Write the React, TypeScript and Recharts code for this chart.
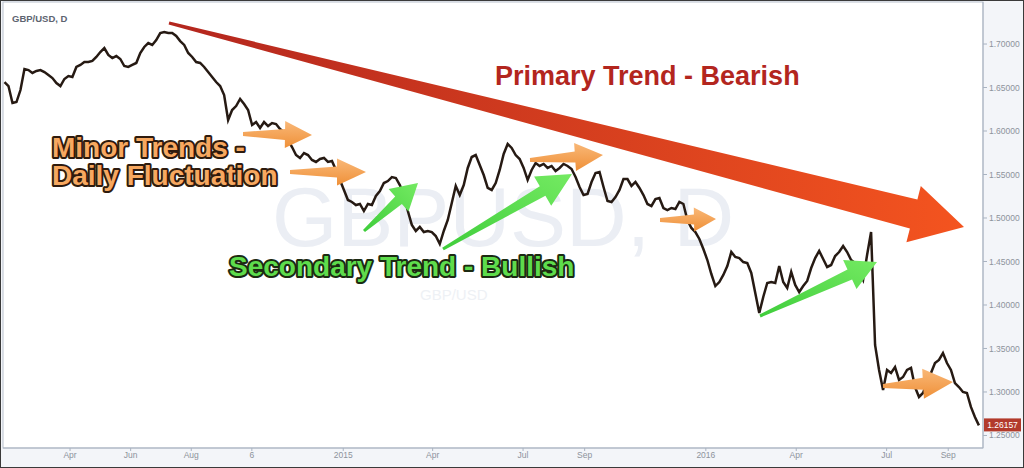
import React from "react";
import { ComposedChart, Line, XAxis, YAxis, ReferenceDot } from "recharts";

const DAY = 86400000;
const FIRST_BAR = Date.UTC(2014, 0, 25);
const STEP = 4.02 * DAY;
const X_START = Date.UTC(2014, 0, 23, 12);
const X_END = Date.UTC(2016, 9, 6);

// GBP/USD closes, one every ~4 days
const closes = [
  1.6563, 1.6517, 1.6322, 1.6333, 1.6471, 1.6713, 1.6701, 1.6667, 1.669, 1.6701,
  1.6678, 1.6644, 1.6609, 1.6552, 1.6517, 1.6598, 1.6632, 1.6621, 1.6736, 1.6759,
  1.6793, 1.6793, 1.6805, 1.6851, 1.6908, 1.6954, 1.6874, 1.6839, 1.6862, 1.6828,
  1.6747, 1.6736, 1.6759, 1.6782, 1.6897, 1.6966, 1.7011, 1.6989, 1.7046, 1.7126,
  1.7138, 1.7126, 1.7126, 1.7092, 1.7034, 1.6989, 1.6897, 1.6851, 1.6793, 1.6782,
  1.6736, 1.6678, 1.6621, 1.6563, 1.6517, 1.6414, 1.6126, 1.6241, 1.6287, 1.6368,
  1.631,
  1.6241, 1.6069, 1.6103, 1.6034, 1.6103, 1.6057, 1.6092, 1.608, 1.6023, 1.5989,
  1.5897, 1.5816, 1.5724, 1.569, 1.5747, 1.5724, 1.5667, 1.5644, 1.5678, 1.569,
  1.5644, 1.5655, 1.5552, 1.5437, 1.5322, 1.5207, 1.5184, 1.5149, 1.5161, 1.508,
  1.5161, 1.5149, 1.5253, 1.531, 1.5402, 1.5425, 1.5471, 1.546, 1.5379, 1.5264,
  1.508, 1.492, 1.4851, 1.4897, 1.4839, 1.4851, 1.4839, 1.4793, 1.4701, 1.4851,
  1.4977, 1.5172, 1.5368, 1.5264, 1.5379, 1.5575, 1.5701, 1.5724, 1.5609, 1.5494,
  1.5345, 1.5322, 1.5402, 1.5552, 1.5736, 1.5851, 1.5805, 1.5724, 1.5678, 1.5575,
  1.5437, 1.5552, 1.5632, 1.5598, 1.5621, 1.5575, 1.5598, 1.554, 1.5575, 1.5621,
  1.5598, 1.5563, 1.5471, 1.5356, 1.5264, 1.5276, 1.5414, 1.5517, 1.5529, 1.5356,
  1.5195, 1.5184, 1.5241, 1.5322, 1.5448, 1.5448, 1.5368, 1.5414, 1.5345, 1.5264,
  1.5161, 1.5138, 1.5218, 1.523, 1.5115, 1.5092, 1.5115, 1.5103, 1.5184, 1.5161,
  1.4977, 1.4885, 1.4839, 1.4759, 1.4644, 1.4517, 1.4356, 1.4218, 1.4264, 1.4345,
  1.4448,
  1.4609, 1.4552, 1.454, 1.4494, 1.4483, 1.4368, 1.4138, 1.3908, 1.4092, 1.4253,
  1.4264, 1.4253, 1.4448, 1.4264, 1.4195, 1.4379, 1.423, 1.4149, 1.4218, 1.4276,
  1.4425, 1.454, 1.4621, 1.4529, 1.4437, 1.446, 1.4563, 1.4609, 1.4678, 1.4609,
  1.4517, 1.4483, 1.4379, 1.4287, 1.4575, 1.4839, 1.354, 1.3253, 1.3023, 1.3253,
  1.3218, 1.3287, 1.3138, 1.3172, 1.3253, 1.3276, 1.3057, 1.2943, 1.2989, 1.3103,
  1.3218, 1.3333, 1.3368, 1.3448, 1.3333, 1.3253, 1.3103, 1.3057, 1.3, 1.2989,
  1.2828, 1.2713, 1.2616,
];

const tickDates = [
  "2014-04-01", "2014-06-01", "2014-08-01", "2014-10-01", "2015-01-01", "2015-04-01",
  "2015-07-01", "2015-09-01", "2016-01-01", "2016-04-01", "2016-07-01", "2016-09-01",
];
const tickLabels = ["Apr", "Jun", "Aug", "6", "2015", "Apr", "Jul", "Sep", "2016", "Apr", "Jul", "Sep"];
const priceTicks = [1.25, 1.3, 1.35, 1.4, 1.45, 1.5, 1.55, 1.6, 1.65, 1.7];
const lastPrice = 1.26157;

const data = closes.map((c, i) => ({ t: FIRST_BAR + i * STEP, close: c }));
const tickTimes = tickDates.map((d) => Date.parse(d + "T00:00:00Z"));
const labelFor = (v: number) => tickLabels[tickTimes.indexOf(v)] ?? "";

// block arrow polygon, tapering shaft
function arrow(x0: number, y0: number, x1: number, y1: number, tail: number, shaft: number, headL: number, headW: number) {
  const len = Math.hypot(x1 - x0, y1 - y0);
  const ux = (x1 - x0) / len, uy = (y1 - y0) / len;
  const nx = -uy, ny = ux;
  const bx = x1 - ux * headL, by = y1 - uy * headL;
  const p = (x: number, y: number, k: number) => `${(x + nx * k).toFixed(1)},${(y + ny * k).toFixed(1)}`;
  return [
    p(x0, y0, -tail / 2), p(bx, by, -shaft / 2), p(bx, by, -headW / 2), `${x1},${y1}`,
    p(bx, by, headW / 2), p(bx, by, shaft / 2), p(x0, y0, tail / 2),
  ].join(" ");
}

const orangeArrows = [
  [243, 134, 312, 135, 4, 11, 27, 27],
  [290, 172, 366, 172, 4, 11, 29, 27],
  [530, 160, 603, 155, 4, 11, 28, 28],
  [660, 220, 716, 219, 4, 10, 22, 24],
  [883, 386, 953, 382, 4, 12, 30, 30],
];
const greenArrows = [
  [364, 231, 418, 183, 3, 10, 26, 30],
  [443, 249, 572, 174, 3, 11, 34, 34],
  [760, 316, 877, 262, 3, 11, 30, 32],
];

const bold = { fontFamily: "'Liberation Sans', Arial, sans-serif", fontWeight: 700 } as const;

const PriceTag = (props: any) => {
  const { cx, cy } = props;
  return (
    <g>
      <rect x={cx + 1} y={cy - 7} width={37} height={13} fill="#b23a2b" />
      <text x={cx + 19.5} y={cy + 3} textAnchor="middle" fontSize={8.5} fill="#fff" fontFamily="'Liberation Sans', Arial, sans-serif">
        {lastPrice.toFixed(5)}
      </text>
    </g>
  );
};

export default function App() {
  return (
    <div
      style={{
        position: "absolute", left: 0, top: 0, width: 1024, height: 468,
        background: "#f3f5f9", boxShadow: "inset 0 0 0 1px #3a3a3a", overflow: "hidden",
      }}
    >
      <svg width={1024} height={468} style={{ position: "absolute", left: 0, top: 0 }}>
        <rect x={3} y={2} width={980} height={446} fill="#ffffff" stroke="#b9c1cd" />
        <text x={272} y={246} fontSize={84} fill="#ebeef4" fontFamily="'Liberation Sans', Arial, sans-serif">
          GBPUSD, D
        </text>
        <text x={420} y={300} fontSize={15} fill="#eef1f5" fontFamily="'Liberation Sans', Arial, sans-serif">
          GBP/USD
        </text>
      </svg>
      <div style={{ position: "absolute", left: 0, top: 0 }}>
        <ComposedChart width={1024} height={468} data={data} margin={{ top: 2, right: 3, left: 3, bottom: 2 }}>
          <XAxis
            type="number"
            dataKey="t"
            domain={[X_START, X_END]}
            allowDataOverflow
            ticks={tickTimes}
            tickFormatter={labelFor}
            height={18}
            tickSize={3}
            tickMargin={1}
            axisLine={{ stroke: "#a9b3c1" }}
            tickLine={{ stroke: "#a9b3c1" }}
            tick={{ fontSize: 8.5, fill: "#8d939c", fontFamily: "'Liberation Sans', Arial, sans-serif" }}
          />
          <YAxis
            orientation="right"
            domain={[1.2356, 1.7483]}
            allowDataOverflow
            ticks={priceTicks}
            tickFormatter={(v: number) => v.toFixed(5)}
            width={38}
            tickSize={4}
            tickMargin={2}
            axisLine={{ stroke: "#a9b3c1" }}
            tickLine={{ stroke: "#a9b3c1" }}
            tick={{ fontSize: 8.5, fill: "#8d939c", fontFamily: "'Liberation Sans', Arial, sans-serif" }}
          />
          <Line
            type="linear"
            dataKey="close"
            stroke="#261a13"
            strokeWidth={2.5}
            strokeLinejoin="miter"
            dot={false}
            isAnimationActive={false}
          />
          <ReferenceDot x={X_END} y={lastPrice} ifOverflow="visible" shape={<PriceTag />} />
        </ComposedChart>
      </div>
      <svg width={1024} height={468} style={{ position: "absolute", left: 0, top: 0, pointerEvents: "none" }}>
        <defs>
          <linearGradient id="redGrad" x1="0" y1="0" x2="1" y2="0">
            <stop offset="0" stopColor="#b3261e" />
            <stop offset="1" stopColor="#f4541f" />
          </linearGradient>
          <linearGradient id="orGrad" x1="0" y1="0" x2="0" y2="1">
            <stop offset="0" stopColor="#f9b878" />
            <stop offset="1" stopColor="#ef9038" />
          </linearGradient>
          <linearGradient id="grGrad" x1="0" y1="1" x2="1" y2="0">
            <stop offset="0" stopColor="#3fcd3b" />
            <stop offset="1" stopColor="#74ea62" />
          </linearGradient>
        </defs>
        <text x={12} y={22} fontSize={9.5} fill="#5d6470" {...bold}>GBP/USD, D</text>
        <polygon points={arrow(169, 23, 964, 227, 3, 30, 52, 58)} fill="url(#redGrad)" />
        {orangeArrows.map((a, i) => (
          <polygon key={"o" + i} points={arrow(a[0], a[1], a[2], a[3], a[4], a[5], a[6], a[7])} fill="url(#orGrad)" />
        ))}
        {greenArrows.map((a, i) => (
          <polygon key={"g" + i} points={arrow(a[0], a[1], a[2], a[3], a[4], a[5], a[6], a[7])} fill="url(#grGrad)" />
        ))}
        <text x={495} y={85} fontSize={27} fill="#b3261e" {...bold}>Primary Trend - Bearish</text>
        <g fontSize={28} stroke="#2e1b0e" strokeWidth={4} strokeLinejoin="round" paintOrder="stroke" {...bold}>
          <text x={52} y={157} fill="#f7a860">Minor Trends -</text>
          <text x={52} y={185} fill="#f7a860">Daily Fluctuation</text>
          <text x={229} y={276} fill="#5edc4c" stroke="#1c2a12">Secondary Trend - Bullish</text>
        </g>
      </svg>
    </div>
  );
}
